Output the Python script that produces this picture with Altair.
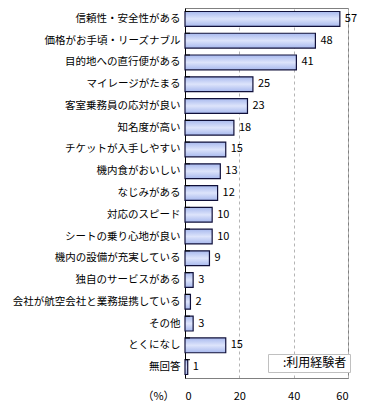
import altair as alt
import pandas as pd

categories = [
    "信頼性・安全性がある",
    "価格がお手頃・リーズナブル",
    "目的地への直行便がある",
    "マイレージがたまる",
    "客室乗務員の応対が良い",
    "知名度が高い",
    "チケットが入手しやすい",
    "機内食がおいしい",
    "なじみがある",
    "対応のスピード",
    "シートの乗り心地が良い",
    "機内の設備が充実している",
    "独自のサービスがある",
    "会社が航空会社と業務提携している",
    "その他",
    "とくになし",
    "無回答",
]
values = [57, 48, 41, 25, 23, 18, 15, 13, 12, 10, 10, 9, 3, 2, 3, 15, 1]
series_name = ":利用経験者"
x_ticks = [0, 20, 40, 60]

df = pd.DataFrame({"label": categories, "value": values, "series": series_name})

FONT = "Noto Sans CJK JP"

y_enc = alt.Y(
    "label:N",
    sort=categories,
    scale=alt.Scale(paddingInner=0.32, paddingOuter=0.16),
    axis=alt.Axis(
        title=None,
        labelFont=FONT,
        labelFontSize=10.5,
        labelColor="#000000",
        labelPadding=5,
        labelLimit=200,
        ticks=False,
        domainColor="#000000",
        domainWidth=1,
    ),
)

x_enc = alt.X(
    "value:Q",
    scale=alt.Scale(domain=[0, 60], nice=False),
    axis=alt.Axis(
        values=x_ticks,
        title="（%）",
        titleFont=FONT,
        titleFontSize=11,
        titleFontWeight="normal",
        titleX=-27,
        titleY=18,
        titleAlign="center",
        titleBaseline="middle",
        titleAngle=0,
        labelFont=FONT,
        labelFontSize=11,
        labelPadding=12,
        labelColor="#000000",
        ticks=False,
        domainColor="#808080",
        grid=True,
        gridDash=[3, 3],
        gridColor="#b4b4b4",
        gridWidth=1,
    ),
)

gradient = alt.Gradient(
    gradient="linear",
    stops=[
        alt.GradientStop(color="#a8b9ee", offset=0),
        alt.GradientStop(color="#dde4fb", offset=0.5),
        alt.GradientStop(color="#a8b9ee", offset=1),
    ],
    x1=0, x2=0, y1=0, y2=1,
)

bars = alt.Chart(df).mark_bar(fill=gradient, strokeWidth=1.2).encode(
    x=x_enc,
    y=y_enc,
    stroke=alt.Stroke(
        "series:N",
        scale=alt.Scale(range=["#10103a"]),
        legend=alt.Legend(
            title=None,
            orient="none",
            legendX=83,
            legendY=346,
            symbolSize=0,
            symbolStrokeWidth=0,
            labelOffset=0,
            labelFont=FONT,
            labelFontSize=12,
            labelColor="#000000",
            strokeColor="#c0c0c0",
            fillColor="#ffffff",
            padding=3,
        ),
    ),
)

texts = alt.Chart(df).mark_text(
    align="left", baseline="middle", dx=5, font=FONT, fontSize=11, color="#000000"
).encode(
    x="value:Q",
    y=alt.Y("label:N", sort=categories),
    text="value:Q",
)

ticks = alt.Chart(df).mark_rule(color="#000000", strokeWidth=1).encode(
    y=alt.Y("label:N", sort=categories, bandPosition=0),
    x=alt.value(0),
    x2=alt.value(5),
)

chart = (
    alt.layer(bars, texts, ticks)
    .properties(
        width=163,
        height=370,
        autosize=alt.AutoSizeParams(type="none"),
        padding={"left": 177, "top": 0, "right": 10, "bottom": 24},
    )
    .configure_view(stroke="#808080", strokeWidth=1)
)

chart.save("out.html", embed_options={"renderer": "svg", "actions": False})
